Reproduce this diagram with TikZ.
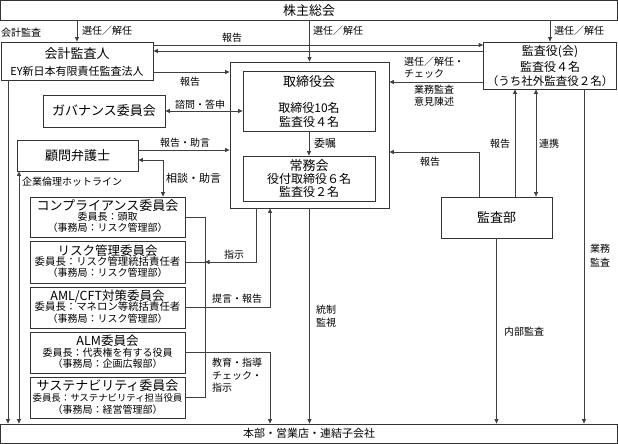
\documentclass[tikz,border=0pt]{standalone}
\usepackage{fontspec}
\setmainfont{Noto Sans CJK JP}
\usetikzlibrary{arrows.meta}
\newcommand\fsz[1]{\fontsize{#1}{#1}\selectfont}
\begin{document}
\begin{tikzpicture}[x=1pt,y=-1pt,
  box/.style={draw=black!80, line width=0.8pt, inner sep=0pt},
  txt/.style={inner sep=0pt, font=\fsz{10}},
  con/.style={draw=black!75, line width=0.8pt},
  arr/.style={con, -{Triangle[length=4.5pt,width=4pt]}},
  darr/.style={con, {Triangle[length=4.5pt,width=4pt]}-{Triangle[length=4.5pt,width=4pt]}},
  cbox/.style={box, minimum width=155, minimum height=41},
]
\useasboundingbox (0,0) rectangle (618,444);

% ---------- boxes ----------
\node[box, minimum width=616.5, minimum height=19.5] (sh) at (309,10.25) {};
\node[txt, font=\fsz{13}] (shT) at (sh.center) {株主総会};
\node[box, minimum width=616.5, minimum height=19.5] (hb) at (309,433.75) {};
\node[txt, font=\fsz{11}] (hbT) at (hb.center) {本部・営業店・連結子会社};

\node[box, minimum width=152, minimum height=38] (kk) at (77,61) {};
\node[txt, font=\fsz{13}] (kkT1) at (77,54) {会計監査人};
\node[txt, font=\fsz{11}] (kkT2) at (77,71) {EY新日本有限責任監査法人};

\node[box, minimum width=133, minimum height=47] (ka) at (550,65.5) {};
\node[txt, font=\fsz{12}] (kaT1) at (550,52) {監査役(会)};
\node[txt, font=\fsz{12}] (kaT2) at (550,67) {監査役４名};
\node[txt, font=\fsz{11.5}] (kaT3) at (550,81) {（うち社外監査役２名）};

\node[box, minimum width=159, minimum height=146] (ob) at (309.5,135) {};
\node[box, minimum width=132, minimum height=60] (tb) at (309,101) {};
\node[txt, font=\fsz{13}] (tbT1) at (309,82) {取締役会};
\node[txt, font=\fsz{12}] (tbT2) at (309,108) {取締役10名};
\node[txt, font=\fsz{12}] (tbT3) at (309,122) {監査役４名};
\node[box, minimum width=132, minimum height=45] (jm) at (309,178.5) {};
\node[txt, font=\fsz{13}] (jmT1) at (309,166) {常務会};
\node[txt, font=\fsz{12}] (jmT2) at (309,179) {役付取締役６名};
\node[txt, font=\fsz{12}] (jmT3) at (309,192) {監査役２名};

\node[box, minimum width=122, minimum height=32] (gv) at (104,111) {};
\node[txt, font=\fsz{13}] (gvT) at (gv.center) {ガバナンス委員会};
\node[box, minimum width=121, minimum height=31] (km) at (77.5,155.5) {};
\node[txt, font=\fsz{13}] (kmT) at (km.center) {顧問弁護士};

\node[box, minimum width=111, minimum height=41] (kb) at (496.5,217.5) {};
\node[txt, font=\fsz{13}] (kbT) at (kb.center) {監査部};

% committees
\node[cbox, minimum height=40] (c1) at (107.5,217) {};
\node[txt, font=\fsz{13}] (c1a) at (107.5,205.5) {コンプライアンス委員会};
\node[txt, font=\fsz{10}] (c1b) at (107.5,216.5) {委員長：頭取};
\node[txt, font=\fsz{10}] (c1c) at (107.5,228) {（事務局：リスク管理部）};

\node[cbox, minimum height=42] (c2) at (107.5,262) {};
\node[txt, font=\fsz{12.5}] (c2a) at (107.5,250.5) {リスク管理委員会};
\node[txt, font=\fsz{10.4}] (c2b) at (107.5,261.5) {委員長：リスク管理統括責任者};
\node[txt, font=\fsz{10}] (c2c) at (107.5,273) {（事務局：リスク管理部）};

\node[cbox] (c3) at (107.5,307.5) {};
\node[txt, font=\fsz{12.5}] (c3a) at (107.5,296) {AML/CFT対策委員会};
\node[txt, font=\fsz{10.4}] (c3b) at (107.5,307) {委員長：マネロン等統括責任者};
\node[txt, font=\fsz{10}] (c3c) at (107.5,318.5) {（事務局：リスク管理部）};

\node[cbox] (c4) at (107.5,352.5) {};
\node[txt, font=\fsz{12.5}] (c4a) at (107.5,341) {ALM委員会};
\node[txt, font=\fsz{10}] (c4b) at (107.5,352.5) {委員長：代表権を有する役員};
\node[txt, font=\fsz{10}] (c4c) at (107.5,364) {（事務局：企画広報部）};

\node[cbox] (c5) at (107.5,397.5) {};
\node[txt, font=\fsz{13}] (c5a) at (107.5,386) {サステナビリティ委員会};
\node[txt, font=\fsz{9.4}] (c5b) at (107.5,398) {委員長：サステナビリティ担当役員};
\node[txt, font=\fsz{10}] (c5c) at (107.5,409.5) {（事務局：経営管理部）};

% ---------- helper coordinates ----------
\coordinate (rA) at (0,45);
\coordinate (rB) at (0,51);
\coordinate (rC) at (0,72);
\coordinate (rD) at (0,82);
\coordinate (rE) at (0,150);
\coordinate (rF) at (0,160);
\coordinate (rG) at (0,152);
\coordinate (kx) at (8,0);
\coordinate (hx) at (19,0);
\coordinate (sx) at (163,0);
\coordinate (bx) at (205,0);
\coordinate (ix) at (256,0);
\coordinate (tx) at (270,0);
\coordinate (px) at (479,0);
\coordinate (qx) at (515,0);
\coordinate (wx) at (536,0);
\coordinate (ux) at (584,0);

% ---------- connectors ----------
\draw[arr] (kk.north |- sh.south) -- (kk.north);
\draw[arr] (ob.north |- sh.south) -- (ob.north);
\draw[arr] (ka.north |- sh.south) -- (ka.north);
\draw[arr] (kk.east |- rA) -- (ka.west |- rA);
\draw[arr] (ka.west |- rB) -- (kk.east |- rB);
\draw[arr] (kk.east |- rC) -- (ob.west |- rC);
\draw[arr] (ka.west |- rD) -- (ob.east |- rD);
\draw[darr] (gv.east) -- (tb.west |- gv.east);
\draw[arr] (km.east |- rE) -- (ob.west |- rE);
\draw[darr] (km.east |- rF) -| (sx |- c1.north);
\draw[darr] (hx |- km.south) -- (hx |- hb.north);
\draw[arr] (kx |- kk.south) -- (kx |- hb.north);
\draw[arr] (tb.south) -- (jm.north);
% committee bus
\draw[con] (c1.east) -- (bx |- c1.east) -- (bx |- c5.east) -- (c5.east);
\draw[con] (c2.east) -- (bx |- c2.east);
\draw[arr] (ix |- ob.south) |- (bx |- c2.east);
\draw[arr] (c3.east) -| (tx |- ob.south);
\draw[arr] (c4.east) -| (tx |- hb.north);
\draw[arr] (ob.south) -- (ob.south |- hb.north);
% audit side
\draw[arr] (px |- kb.north) |- (ob.east |- rG);
\draw[arr] (qx |- kb.north) -- (qx |- ka.south);
\draw[darr] (wx |- ka.south) -- (wx |- kb.north);
\draw[arr] (ux |- ka.south) -- (ux |- hb.north);
\draw[arr] (kb.south) -- (kb.south |- hb.north);

% ---------- labels ----------
\node[txt, anchor=west] (l1) at (1,33) {会計監査};
\node[txt, anchor=west] (l2) at (82,31) {選任／解任};
\node[txt] (l3) at (232,38) {報告};
\node[txt] (l4) at (190,82) {報告};
\node[txt, anchor=west] (l5) at (313,31) {選任／解任};
\node[txt, anchor=west] (l6) at (554,31) {選任／解任};
\node[txt, anchor=west] (l7) at (404,62) {選任／解任・};
\node[txt, anchor=west] (l8) at (404,74) {チェック};
\node[txt, anchor=west] (l9) at (414,90) {業務監査};
\node[txt, anchor=west] (l10) at (414,102) {意見陳述};
\node[txt] (l11) at (200,105) {諮問・答申};
\node[txt] (l12) at (185,143) {報告・助言};
\node[txt, anchor=west, font=\fsz{11}] (l13) at (166,178) {相談・助言};
\node[txt, anchor=west] (l14) at (22,182) {企業倫理ホットライン};
\node[txt, anchor=west, font=\fsz{11}] (l15) at (314,143) {委嘱};
\node[txt] (l16) at (430,162) {報告};
\node[txt] (l17) at (500,144) {報告};
\node[txt] (l18) at (549,144) {連携};
\node[txt] (l19) at (600,249) {業務};
\node[txt] (l20) at (600,263) {監査};
\node[txt] (l21) at (326,310) {統制};
\node[txt] (l22) at (326,323) {監視};
\node[txt] (l23) at (524,332) {内部監査};
\node[txt] (l24) at (234,255) {指示};
\node[txt] (l25) at (237,299) {提言・報告};
\node[txt, anchor=west] (l26) at (212,363) {教育・指導};
\node[txt, anchor=west] (l27) at (212,375.5) {チェック・};
\node[txt, anchor=west] (l28) at (212,388) {指示};
\end{tikzpicture}
\end{document}
